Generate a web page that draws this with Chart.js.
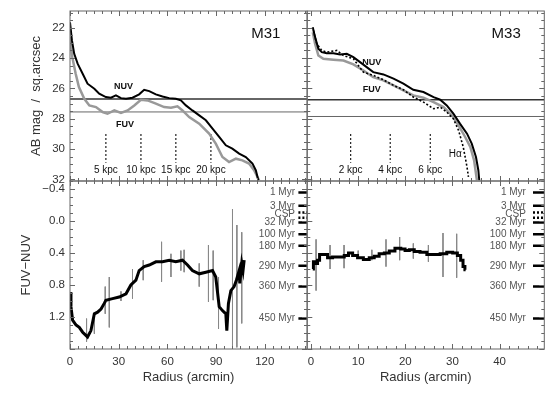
<!DOCTYPE html>
<html>
<head>
<meta charset="utf-8">
<script src="https://cdn.jsdelivr.net/npm/chart.js@4"></script>
<style>
body { margin: 0; background: #fff; }
#wrap { position: relative; width: 560px; height: 393px; }
#wrap canvas { position: absolute; left: 0; top: 0; }
</style>
</head>
<body>
<div id="wrap">
  <canvas id="m31Mag" width="560" height="393"></canvas>
  <canvas id="m33Mag" width="560" height="393"></canvas>
  <canvas id="m31Col" width="560" height="393"></canvas>
  <canvas id="m33Col" width="560" height="393"></canvas>
</div>
<script>
// tick labels
var magTicks = [22, 24, 26, 28, 30, 32];
var colorTicks = [-0.4, 0.0, 0.4, 0.8, 1.2];
var m31RadiusTicks = [0, 30, 60, 90, 120];
var m33RadiusTicks = [0, 10, 20, 30, 40];

// M31 surface brightness (radius arcmin, AB mag / arcsec^2)
var m31NuvR = [0, 1.2, 2.6, 4.7, 7.8, 10.8, 15, 18, 22.1, 25.2, 28.3, 31.4, 34.5, 38.5, 42.6, 45.7, 48.8, 52.9, 57, 61.1, 65.2, 68.3, 71.4, 75.4, 79.6, 83.7, 87.8, 91.9, 96, 100, 104.2, 108.3, 112.4, 114.5, 116];
var m31NuvMag = [21.64, 22.84, 23.72, 24.37, 25.03, 25.69, 26.02, 26.35, 26.57, 26.61, 26.46, 26.64, 26.68, 26.61, 26.39, 26.09, 26.18, 26.39, 26.53, 26.64, 26.68, 26.79, 27.12, 27.45, 27.78, 28.1, 28.65, 29.2, 29.75, 29.97, 30.3, 30.52, 30.95, 31.4, 32.05];
var m31FuvR = [0, 1.4, 3.5, 5.5, 8.8, 11.9, 16, 20.1, 23.1, 27.3, 31.4, 35.5, 39.6, 43.7, 47.8, 52.9, 58, 62.2, 66.2, 69.3, 73.4, 79.6, 85.7, 89.8, 93.9, 98, 102.2, 106.2, 110.3, 113.4, 116.5];
var m31FuvMag = [22.62, 23.94, 25.03, 25.91, 26.68, 27.12, 27.23, 27.56, 27.67, 27.45, 27.62, 27.45, 27.12, 26.75, 26.79, 27.0, 27.23, 27.27, 27.18, 27.45, 27.89, 28.32, 28.98, 29.64, 30.52, 30.85, 30.63, 30.74, 30.95, 31.39, 32.05];
var m31Limits = [26.7, 27.55];
var m31KpcR = [22.1, 43.7, 65.2, 86.8];
var m31KpcLabels = ['5 kpc', '10 kpc', '15 kpc', '20 kpc'];

// M33 surface brightness
var m33NuvR = [0.36, 0.85, 1.55, 2.27, 3.33, 4.74, 6.16, 7.58, 8.98, 10.4, 11.8, 13.2, 15.35, 17.5, 19.6, 21.7, 23.85, 26, 27.4, 28.8, 30.2, 31.6, 33.1, 34.1, 35.0, 35.5, 35.7];
var m33NuvMag = [21.97, 22.62, 23.39, 23.61, 23.68, 23.68, 23.76, 23.72, 23.94, 24.27, 24.6, 24.93, 25.08, 25.36, 25.69, 26.09, 26.24, 26.57, 26.74, 27.12, 27.66, 28.32, 28.98, 29.64, 30.52, 31.39, 32.05];
var m33FuvR = [0.36, 0.85, 1.55, 2.6, 4.74, 6.87, 8.98, 11.1, 13.2, 15.35, 17.5, 19.6, 21.7, 23.85, 26, 28.1, 29.9, 31.3, 32.7, 33.8, 34.6, 35.2];
var m33FuvMag = [22.3, 23.06, 23.83, 24.05, 24.11, 24.16, 24.42, 24.82, 25.26, 25.47, 25.8, 26.13, 26.46, 26.61, 26.9, 27.23, 27.78, 28.43, 29.2, 29.86, 30.74, 32.05];
var m33HaR = [0.5, 1.2, 2.27, 3.33, 5.45, 6.87, 8.98, 11.1, 13.2, 15.35, 17.5, 19.6, 21.7, 23.85, 26, 27.4, 28.8, 30.2, 31.3, 32.3, 33.1, 33.4];
var m33HaMag = [22.18, 23.06, 23.5, 23.61, 23.5, 23.83, 24.05, 24.93, 25.14, 25.43, 25.8, 26.09, 26.57, 26.9, 27.34, 27.23, 27.56, 28, 28.76, 29.86, 31.18, 31.83];
var m33Limits = [26.75, 27.85];
var m33KpcR = [8.4, 16.8, 25.3];
var m33KpcLabels = ['2 kpc', '4 kpc', '6 kpc'];

// FUV-NUV colour profiles
var m31ColR = [0, 0.6, 1.6, 3.7, 5.7, 7.8, 9.8, 10.8, 12.9, 15, 17, 19.1, 21.1, 22.1, 26.2, 30.3, 34.5, 37.5, 40.6, 42.6, 45.7, 48.8, 52.9, 57, 61.1, 65.2, 69.3, 72.4, 75.4, 79.6, 83.7, 87.8, 89.8, 91.9, 93.9, 96, 96.6, 97.6, 99.1, 101.1, 102.5, 104.2, 104.6, 105.8, 106.6, 107.3];
var m31Col = [0.89, 1.07, 1.24, 1.30, 1.33, 1.39, 1.43, 1.45, 1.37, 1.16, 1.14, 1.1, 1.03, 0.99, 0.97, 0.95, 0.91, 0.8, 0.74, 0.62, 0.57, 0.55, 0.51, 0.51, 0.49, 0.51, 0.49, 0.55, 0.62, 0.66, 0.64, 0.62, 0.70, 1.07, 1.12, 1.16, 1.37, 1.03, 0.87, 0.82, 0.74, 0.62, 0.78, 0.53, 0.62, 0.49];
var m31ErrR = [10.2, 15, 21.7, 24.2, 31.4, 38.5, 45.1, 56.4, 62.2, 68.3, 70.3, 79.6, 85.3, 88.2, 91.5, 100.1, 102.8, 105.8];
var m31ErrLo = [1.22, 1.16, 0.82, 0.70, 0.88, 0.6, 0.49, 0.26, 0.41, 0.37, 0.36, 0.53, 0.30, 0.37, 0.70, -0.15, 0.05, 0.14];
var m31ErrHi = [1.51, 1.41, 1.16, 1.33, 1.0, 0.97, 0.74, 0.76, 0.70, 0.62, 0.64, 0.82, 1.01, 0.99, 1.35, 1.58, 1.58, 1.28];

var m33ColR = [0.36, 0.64, 1.2, 1.55, 2.06, 2.97, 4.03, 5.1, 6.5, 7.58, 8.3, 9.34, 10.4, 11.8, 12.9, 13.9, 15, 16.1, 17.1, 18.5, 19.6, 20.3, 21.4, 22.4, 23.85, 25.3, 26.7, 28.1, 29.5, 30.6, 31.5, 32, 32.5, 32.8];
var m33Col = [0.6, 0.51, 0.53, 0.49, 0.42, 0.42, 0.46, 0.45, 0.45, 0.43, 0.40, 0.43, 0.46, 0.48, 0.46, 0.44, 0.41, 0.40, 0.375, 0.34, 0.35, 0.37, 0.36, 0.38, 0.39, 0.42, 0.42, 0.41, 0.39, 0.40, 0.43, 0.49, 0.57, 0.61];
var m33ErrR = [1.06, 4.03, 7, 10, 12.9, 15.9, 18.8, 21.7, 24.9, 28, 30.9];
var m33ErrLo = [0.23, 0.30, 0.30, 0.37, 0.36, 0.23, 0.20, 0.28, 0.30, 0.15, 0.16];
var m33ErrHi = [0.87, 0.60, 0.59, 0.45, 0.49, 0.57, 0.49, 0.47, 0.51, 0.70, 0.71];

// model ages (FUV-NUV of a single burst)
var ageLabels = ['1 Myr', '3 Myr', '32 Myr', '100 Myr', '180 Myr', '290 Myr', '360 Myr', '450 Myr'];
var ageColors = [-0.355, -0.19, 0.02, 0.166, 0.31, 0.56, 0.82, 1.22];
var cspColors = [-0.105, -0.04];

var FONT = '"Liberation Sans", Arial, sans-serif';
Chart.defaults.font.family = FONT;

function pts(xs, ys) {
    return xs.map(function (x, i) { return { x: x, y: ys[i] }; });
}
// vertical segments separated by gaps
function vsegs(xs, lo, hi) {
    var out = [];
    xs.forEach(function (x, i) {
        out.push({ x: x, y: lo[i] }, { x: x, y: hi[i] }, { x: x, y: null });
    });
    return out;
}
function hsegs(ys, x0, x1) {
    var out = [];
    ys.forEach(function (y) {
        out.push({ x: x0, y: y }, { x: x1, y: y }, { x: x1, y: null });
    });
    return out;
}
function line(data, color, width, dash, stepped) {
    return { data: data, borderColor: color, borderWidth: width, borderDash: dash || [], stepped: stepped || false, pointRadius: 0, showLine: true, spanGaps: false, fill: false };
}

function xScale(min, max, ticks, show) {
    return {
        type: 'linear', min: min, max: max, display: show,
        afterBuildTicks: function (s) { s.ticks = ticks.map(function (v) { return { value: v }; }); },
        afterFit: function (s) { s.height = show ? 44 : 0; s.paddingLeft = 0; s.paddingRight = 0; },
        grid: { display: false, drawTicks: false },
        border: { display: false },
        ticks: { padding: 6, color: '#333', autoSkip: false, maxRotation: 0, font: { size: 11.5 } },
        title: { display: true, text: 'Radius (arcmin)', color: '#333', font: { size: 13 }, padding: { top: 0, bottom: 8 } }
    };
}
function yScale(min, max, ticks, show, title, titlePad, fmt) {
    return {
        type: 'linear', min: min, max: max, reverse: true, display: show,
        afterBuildTicks: function (s) { s.ticks = ticks.map(function (v) { return { value: v }; }); },
        afterFit: function (s) { s.width = show ? 70 : 0; s.paddingTop = 0; s.paddingBottom = 0; },
        grid: { display: false, drawTicks: false },
        border: { display: false },
        ticks: { padding: 5, color: '#333', autoSkip: false, font: { size: 11.5 }, callback: fmt },
        title: { display: true, text: title, color: '#333', font: { size: 13 }, padding: { top: titlePad, bottom: 0 } }
    };
}

// frame, inside tick marks and text annotations
function decor(o) {
    return {
        id: 'decor',
        afterDatasetsDraw: function (chart) {
            var ctx = chart.ctx, a = chart.chartArea, xs = chart.scales.x, ys = chart.scales.y;
            ctx.save();
            ctx.strokeStyle = '#666';
            ctx.lineWidth = 1;
            ctx.strokeRect(a.left, a.top, a.right - a.left, a.bottom - a.top);
            ctx.beginPath();
            for (var n = Math.ceil(xs.min / o.xMinor); n * o.xMinor <= xs.max; n++) {
                var v = n * o.xMinor, len = Math.abs(v / o.xMajor - Math.round(v / o.xMajor)) < 1e-6 ? 5 : 3;
                var px = Math.round(xs.getPixelForValue(v)) + 0.5;
                ctx.moveTo(px, a.top); ctx.lineTo(px, a.top + len);
                ctx.moveTo(px, a.bottom); ctx.lineTo(px, a.bottom - len);
            }
            for (var m = Math.ceil(ys.min / o.yMinor); m * o.yMinor <= ys.max + 1e-9; m++) {
                var w = m * o.yMinor, l2 = Math.abs(w / o.yMajor - Math.round(w / o.yMajor)) < 1e-6 ? 5 : 3;
                var py = Math.round(ys.getPixelForValue(w)) + 0.5;
                ctx.moveTo(a.left, py); ctx.lineTo(a.left + l2, py);
                ctx.moveTo(a.right, py); ctx.lineTo(a.right - l2, py);
            }
            ctx.stroke();
            ctx.textBaseline = 'middle';
            (o.texts || []).forEach(function (t) {
                ctx.font = t.font;
                ctx.fillStyle = t.color || '#111';
                ctx.textAlign = t.align || 'center';
                ctx.fillText(t.text, xs.getPixelForValue(t.x), ys.getPixelForValue(t.y));
            });
            ctx.restore();
        }
    };
}

function kpcTexts(rs, labels, y) {
    return rs.map(function (r, i) { return { text: labels[i], x: r, y: y, font: '10px ' + FONT }; });
}
function ageTexts(x) {
    var t = ageLabels.map(function (s, i) {
        return { text: s, x: x, y: ageColors[i], align: 'right', color: '#555', font: '10px ' + FONT };
    });
    t.push({ text: 'CSP', x: x, y: -0.085, align: 'right', color: '#555', font: '10px ' + FONT });
    return t;
}

function baseOptions(pad, scales) {
    return {
        responsive: false, animation: false,
        layout: { padding: pad, autoPadding: false },
        plugins: { legend: { display: false }, tooltip: { enabled: false } },
        scales: scales
    };
}

var magFmt = function (v) { return String(v); };
var colFmt = function (v) { return (v < 0 ? '\u2212' : '') + Math.abs(v).toFixed(1); };

var M31X = [0, 146], M33X = [-0.8, 49.5], MAGY = [20.9, 32.1], COLY = [-0.5, 1.6];
var kpcMagTop = 29.0, kpcMagBot = 30.9;

// M31 surface brightness
new Chart(document.getElementById('m31Mag'), {
    type: 'scatter',
    data: {
        datasets: [
            line(pts(m31NuvR, m31NuvMag), '#000', 2),
            line(pts(m31FuvR, m31FuvMag), '#999', 2.5),
            line(hsegs([m31Limits[0]], M31X[0], M31X[1]), '#333', 1.5),
            line(hsegs([m31Limits[1]], M31X[0], M31X[1]), '#666', 1),
            line(vsegs(m31KpcR, m31KpcR.map(function () { return kpcMagTop; }), m31KpcR.map(function () { return kpcMagBot; })), '#222', 1.2, [2, 2])
        ]
    },
    options: baseOptions({ left: 0, top: 11, right: 253, bottom: 212 }, {
        x: xScale(M31X[0], M31X[1], m31RadiusTicks, false),
        y: yScale(MAGY[0], MAGY[1], magTicks, true, 'AB mag  /  sq.arcsec', 29, magFmt)
    }),
    plugins: [decor({
        xMajor: 30, xMinor: 5, yMajor: 2, yMinor: 0.5,
        texts: [
            { text: 'M31', x: 120.6, y: 22.4, font: '15px ' + FONT },
            { text: 'NUV', x: 33, y: 25.87, font: 'bold 9px ' + FONT },
            { text: 'FUV', x: 33.9, y: 28.37, font: 'bold 9px ' + FONT }
        ].concat(kpcTexts(m31KpcR, m31KpcLabels, 31.4))
    })]
});

// M33 surface brightness
new Chart(document.getElementById('m33Mag'), {
    type: 'scatter',
    data: {
        datasets: [
            line(pts(m33NuvR, m33NuvMag), '#000', 2),
            line(pts(m33HaR, m33HaMag), '#000', 1.6, [2, 2]),
            line(pts(m33FuvR, m33FuvMag), '#999', 2.5),
            line(hsegs([m33Limits[0]], M33X[0], M33X[1]), '#333', 1.5),
            line(hsegs([m33Limits[1]], M33X[0], M33X[1]), '#666', 1),
            line(vsegs(m33KpcR, m33KpcR.map(function () { return kpcMagTop; }), m33KpcR.map(function () { return kpcMagBot; })), '#222', 1.2, [2, 2])
        ]
    },
    options: baseOptions({ left: 307.3, top: 11, right: 15.7, bottom: 212 }, {
        x: xScale(M33X[0], M33X[1], m33RadiusTicks, false),
        y: yScale(MAGY[0], MAGY[1], magTicks, false, '', 0, magFmt)
    }),
    plugins: [decor({
        xMajor: 10, xMinor: 2, yMajor: 2, yMinor: 0.5,
        texts: [
            { text: 'M33', x: 41.4, y: 22.4, font: '15px ' + FONT },
            { text: 'NUV', x: 12.9, y: 24.27, font: 'bold 9px ' + FONT },
            { text: 'FUV', x: 12.9, y: 26.09, font: 'bold 9px ' + FONT },
            { text: 'H\u03b1', x: 30.6, y: 30.34, font: '10px ' + FONT }
        ].concat(kpcTexts(m33KpcR, m33KpcLabels, 31.4))
    })]
});

// M31 colour
new Chart(document.getElementById('m31Col'), {
    type: 'scatter',
    data: {
        datasets: [
            line(pts(m31ColR, m31Col), '#000', 3),
            line(hsegs(ageColors, 140.7, M31X[1]), '#000', 2.5),
            line(hsegs(cspColors, 140.7, M31X[1]), '#000', 2.5, [2, 2]),
            line(vsegs(m31ErrR, m31ErrLo, m31ErrHi), '#888', 1)
        ]
    },
    options: baseOptions({ left: 0, top: 181, right: 253, bottom: 0 }, {
        x: xScale(M31X[0], M31X[1], m31RadiusTicks, true),
        y: yScale(COLY[0], COLY[1], colorTicks, true, 'FUV\u2212NUV', 19, colFmt)
    }),
    plugins: [decor({ xMajor: 30, xMinor: 5, yMajor: 0.4, yMinor: 0.1, texts: ageTexts(138.6) })]
});

// M33 colour
new Chart(document.getElementById('m33Col'), {
    type: 'scatter',
    data: {
        datasets: [
            line(pts(m33ColR, m33Col), '#000', 3, null, 'middle'),
            line(hsegs(ageColors, 47.1, M33X[1]), '#000', 2.5),
            line(hsegs(cspColors, 47.1, M33X[1]), '#000', 2.5, [2, 2]),
            line(vsegs(m33ErrR, m33ErrLo, m33ErrHi), '#888', 1)
        ]
    },
    options: baseOptions({ left: 307.3, top: 181, right: 15.7, bottom: 0 }, {
        x: xScale(M33X[0], M33X[1], m33RadiusTicks, true),
        y: yScale(COLY[0], COLY[1], colorTicks, false, '', 0, colFmt)
    }),
    plugins: [decor({ xMajor: 10, xMinor: 2, yMajor: 0.4, yMinor: 0.1, texts: ageTexts(45.6) })]
});
</script>
</body>
</html>
